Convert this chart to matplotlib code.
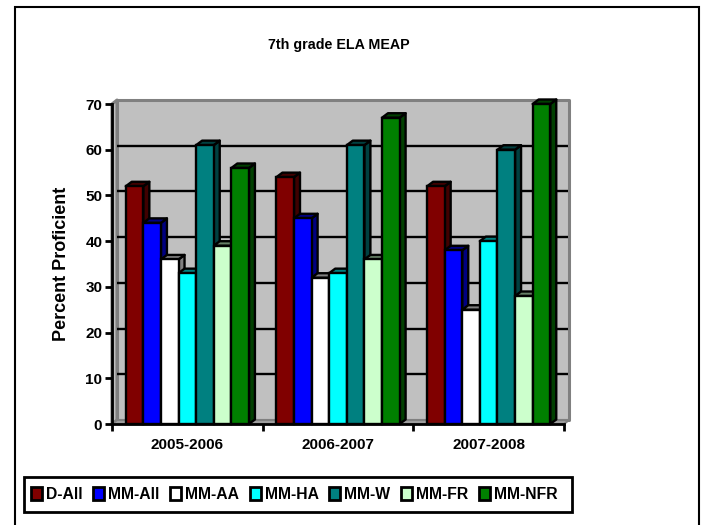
import numpy as np
import matplotlib
matplotlib.use('Agg')
import matplotlib.pyplot as plt
from matplotlib.patches import Patch, Rectangle, Polygon

plt.rcParams['font.family'] = ['Liberation Sans', 'DejaVu Sans']
plt.rcParams['font.weight'] = 'bold'

years = ['2005-2006', '2006-2007', '2007-2008']
series_names = ['D-All', 'MM-All', 'MM-AA', 'MM-HA', 'MM-W', 'MM-FR', 'MM-NFR']
d_all = [52, 54, 52]
mm_all = [44, 45, 38]
mm_aa = [36, 32, 25]
mm_ha = [33, 33, 40]
mm_w = [61, 61, 60]
mm_fr = [39, 36, 28]
mm_nfr = [56, 67, 70]
series = [d_all, mm_all, mm_aa, mm_ha, mm_w, mm_fr, mm_nfr]

colors = ['#800000', '#0000ff', '#ffffff', '#00ffff', '#008080', '#ccffcc', '#008000']
side_colors = ['#400000', '#000080', '#808080', '#008080', '#004040', '#668066', '#004000']
y_ticks = list(range(0, 80, 10))

fig = plt.figure(figsize=(7.04, 5.25), dpi=100)
ax = fig.add_axes([112 / 704, (525 - 424) / 525, 452 / 704, 320 / 525])
ax.set_xlim(0, 3)
ax.set_ylim(0, 70)

# pixel sizes turned into data units, for the fake 3d look
px_x = 3 / 452
px_y = 70 / 320
wall_dx, wall_dy = 5 * px_x, 4 * px_y
bar_dx, bar_dy = 6 * px_x, 4.5 * px_y
bar_w = 17.6 * px_x


def poly(pts, fc, ec='black', lw=1.7, z=3):
    ax.add_patch(Polygon(pts, closed=True, facecolor=fc, edgecolor=ec, linewidth=lw,
                         zorder=z, clip_on=False, joinstyle='round'))


# walls and floor
poly([(wall_dx, wall_dy), (3 + wall_dx, wall_dy), (3 + wall_dx, 70 + wall_dy), (wall_dx, 70 + wall_dy)],
     '#c0c0c0', ec='#808080', lw=2.2, z=1)
poly([(0, 0), (wall_dx, wall_dy), (wall_dx, 70 + wall_dy), (0, 70)], '#c0c0c0', ec='#808080', lw=2.2, z=1)
poly([(0, 0), (3, 0), (3 + wall_dx, wall_dy), (wall_dx, wall_dy)], '#a0a0a0', ec='#808080', lw=1.5, z=1)

for t in y_ticks[1:-1]:
    ax.plot([wall_dx, 3 + wall_dx - 1 * px_x], [t + wall_dy, t + wall_dy], color='black', lw=1.7,
            zorder=2, solid_capstyle='butt', clip_on=False)

# bars, front faces go through ax.bar, the depth faces are added on top
for i, vals in enumerate(series):
    xs = np.arange(3) + 0.5 + (i - 3) * bar_w
    ax.bar(xs, vals, width=bar_w, color=colors[i], edgecolor='black', linewidth=1.7, zorder=4, clip_on=False)
    for x, v in zip(xs, vals):
        l, r = x - bar_w / 2, x + bar_w / 2
        poly([(r, 0), (r + bar_dx, bar_dy), (r + bar_dx, v + bar_dy), (r, v)], side_colors[i], z=3.5)
        poly([(l, v), (r, v), (r + bar_dx, v + bar_dy), (l + bar_dx, v + bar_dy)], side_colors[i], z=3.5)

ax.set_xticks([0, 1, 2, 3])
ax.set_xticklabels([])
ax.set_xticks([0.5, 1.5, 2.5], minor=True)
ax.set_xticklabels(years, minor=True, fontsize=11, fontweight='bold')
ax.tick_params(axis='x', which='minor', length=0, pad=10)
ax.tick_params(axis='x', which='major', length=5, width=2, direction='out')
ax.set_yticks(y_ticks)
ax.set_yticklabels([str(t) for t in y_ticks], fontsize=11, fontweight='bold')
ax.tick_params(axis='y', length=5, width=2, direction='out', pad=2)
for s in ['top', 'right']:
    ax.spines[s].set_visible(False)
for s in ['left', 'bottom']:
    ax.spines[s].set_linewidth(2)
    ax.spines[s].set_zorder(5)
ax.patch.set_visible(False)

ax.set_ylabel('Percent Proficient', fontsize=13, fontweight='bold')
ax.yaxis.set_label_coords((70 - 112) / 452, (424 - 264) / 320)
fig.text(339 / 704, 1 - 45 / 525, '7th grade ELA MEAP', fontsize=10.3, fontweight='bold', ha='center', va='center')

# outer chart border, runs off the bottom of the picture
fig.add_artist(Rectangle((15 / 704, -0.05), (699 - 15) / 704, 1.05 - 7 / 525, transform=fig.transFigure,
                         facecolor='none', edgecolor='black', linewidth=1.5))

# legend box drawn apart so its size can be set directly
fig.add_artist(Rectangle((24 / 704, 1 - 512 / 525), 548 / 704, 35 / 525, transform=fig.transFigure,
                         facecolor='white', edgecolor='black', linewidth=2))
handles = [Patch(facecolor=c, edgecolor='black', linewidth=2) for c in colors]
leg = fig.legend(handles, series_names, ncol=7, loc='center left', bbox_to_anchor=(31 / 704, 1 - 494.5 / 525),
                 fontsize=11.3, frameon=False, handlelength=0.7, handleheight=0.9, handletextpad=0.25,
                 columnspacing=0.68, borderpad=0, borderaxespad=0)

fig.savefig('out.png', dpi=100)
